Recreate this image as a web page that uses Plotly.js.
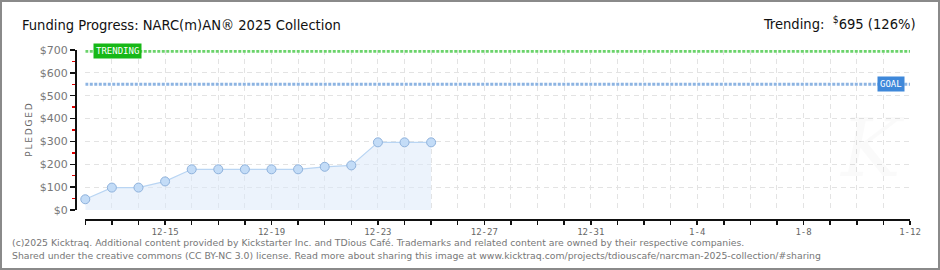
<!DOCTYPE html>
<html>
<head>
<meta charset="utf-8">
<script src="https://cdn.plot.ly/plotly-3.0.1.min.js"></script>
<style>
  html, body { margin: 0; padding: 0; background: #fff; }
  #wrap { position: relative; width: 940px; height: 270px; }
  #chart { width: 940px; height: 270px; }
  #frame { position: absolute; left: 0; top: 0; width: 936px; height: 266px; border: 2px solid #8a8a8a; pointer-events: none; }
</style>
</head>
<body>
<div id="wrap"><div id="chart"></div><div id="frame"></div></div>
<script>
// ---- data ----
const dates = ['2025-12-12','2025-12-13','2025-12-14','2025-12-15','2025-12-16','2025-12-17','2025-12-18',
               '2025-12-19','2025-12-20','2025-12-21','2025-12-22','2025-12-23','2025-12-24','2025-12-25'];
const pledged = [47, 98, 98, 125, 178, 178, 178, 178, 178, 189, 195, 296, 296, 296];
const tickDates = ['2025-12-15','2025-12-19','2025-12-23','2025-12-27','2025-12-31','2026-01-04','2026-01-08','2026-01-12'];
const tickLabels = ['12-15','12-19','12-23','12-27','12-31','1-4','1-8','1-12'];
const xStart = '2025-12-12';
const xEnd = '2026-01-12';
const goal = 550;
const trending = 695;
const trendingPct = 126;
const yTicks = [0, 100, 200, 300, 400, 500, 600, 700];
const yTickLabels = ['$0','$100','$200','$300','$400','$500','$600','$700'];

const titleText = 'Funding Progress: NARC(m)AN® 2025 Collection';
const footer1 = '(c)2025 Kicktraq. Additional content provided by Kickstarter Inc. and TDious Café. Trademarks and related content are owned by their respective companies.';
const footer2 = 'Shared under the creative commons (CC BY-NC 3.0) license. Read more about sharing this image at www.kicktraq.com/projects/tdiouscafe/narcman-2025-collection/#sharing';

const DAY = 86400000;
const thinFont = '"DejaVu Sans Condensed", "DejaVu Sans", sans-serif';

const trace = {
  x: dates, y: pledged, type: 'scatter', mode: 'lines+markers',
  fill: 'tozeroy', fillcolor: 'rgba(220,234,250,0.55)',
  line: { color: '#b9d5f3', width: 1.2 },
  marker: { size: 9, color: '#c3dcf7', line: { color: '#8fb2dc', width: 1 } },
  hoverinfo: 'skip', cliponaxis: false
};

const layout = {
  width: 940, height: 270,
  margin: { l: 75, r: 30, t: 50, b: 51 },
  paper_bgcolor: '#fff', plot_bgcolor: '#fff',
  showlegend: false,
  font: { family: '"DejaVu Sans", sans-serif', color: '#666' },
  xaxis: {
    type: 'date', range: [xStart, xEnd], domain: [0.0123, 1],
    anchor: 'free', position: 0,
    tickmode: 'array', tickvals: tickDates, ticktext: tickLabels,
    ticks: 'outside', ticklen: 4, tickwidth: 1.5, tickcolor: '#111',
    showline: true, linecolor: '#111', linewidth: 1.5,
    tickfont: { size: 9, color: '#666', family: '"DejaVu Sans Mono", monospace' },
    showgrid: true, gridcolor: '#e3e3e3', griddash: '5px,4px', gridwidth: 1,
    minor: { dtick: DAY, tick0: xStart, ticks: 'outside', ticklen: 4, tickwidth: 1.5, tickcolor: '#111',
             showgrid: true, gridcolor: '#e3e3e3', griddash: '5px,4px', gridwidth: 1 },
    zeroline: false, fixedrange: true
  },
  yaxis: {
    range: [0, 700], domain: [0.0533, 1],
    anchor: 'free', position: 0,
    tickmode: 'array', tickvals: yTicks, ticktext: yTickLabels,
    ticks: 'outside', ticklen: 5, tickwidth: 1.5, tickcolor: '#111',
    showline: true, linecolor: '#111', linewidth: 1.5,
    tickfont: { size: 11, color: '#777', family: '"DejaVu Sans", sans-serif' },
    showgrid: true, gridcolor: '#e3e3e3', griddash: '5px,4px', gridwidth: 1,
    minor: { dtick: 50, tick0: 50, ticks: 'outside', ticklen: 3, tickwidth: 1.5, tickcolor: '#e00000', showgrid: false },
    zeroline: false, fixedrange: true,
    title: { text: 'P\u2009L\u2009E\u2009D\u2009G\u2009E\u2009D', standoff: 4, font: { size: 9, color: '#666', family: '"DejaVu Sans", sans-serif' } }
  },
  shapes: [
    { type: 'line', xref: 'x', yref: 'y', x0: xStart, x1: xEnd, y0: trending, y1: trending,
      line: { color: '#6bd36b', width: 3, dash: '3px,1.5px' }, layer: 'above' },
    { type: 'line', xref: 'x', yref: 'y', x0: xStart, x1: xEnd, y0: goal, y1: goal,
      line: { color: '#8db4e2', width: 3, dash: '3px,1.5px' }, layer: 'above' }
  ],
  annotations: [
    { text: titleText, xref: 'paper', yref: 'paper', x: -0.066, y: 1.15, xanchor: 'left', yanchor: 'middle',
      showarrow: false, font: { size: 14.6, color: '#111', family: thinFont } },
    { text: 'Trending:  <sup>$</sup>' + trending + ' (' + trendingPct + '%)', xref: 'paper', yref: 'paper',
      x: 1.01, y: 1.16, xanchor: 'right', yanchor: 'middle',
      showarrow: false, font: { size: 14.6, color: '#111', family: thinFont } },
    { text: 'TRENDING', xref: 'paper', yref: 'y', x: 0.0216, y: trending, xanchor: 'left', yanchor: 'middle',
      showarrow: false, bgcolor: '#17b817', borderpad: 2, font: { size: 9, color: '#fff', family: '"DejaVu Sans Mono", monospace' } },
    { text: 'GOAL', xref: 'paper', yref: 'y', x: 0.994, y: goal, xanchor: 'right', yanchor: 'middle',
      showarrow: false, bgcolor: '#3e88da', borderpad: 2, font: { size: 9, color: '#fff', family: '"DejaVu Sans Mono", monospace' } },
    { text: '<i>K</i>', xref: 'paper', yref: 'paper', x: 0.955, y: 0.42, xanchor: 'center', yanchor: 'middle',
      showarrow: false, font: { size: 80, color: 'rgba(0,0,0,0.02)', family: '"DejaVu Serif", serif' } },
    { text: footer1, xref: 'paper', yref: 'paper', x: -0.0778, y: -0.142, xanchor: 'left', yanchor: 'middle',
      showarrow: false, font: { size: 9.3, color: '#777', family: '"DejaVu Sans", sans-serif' } },
    { text: footer2, xref: 'paper', yref: 'paper', x: -0.0778, y: -0.218, xanchor: 'left', yanchor: 'middle',
      showarrow: false, font: { size: 9.3, color: '#777', family: '"DejaVu Sans", sans-serif' } }
  ]
};

Plotly.newPlot('chart', [trace], layout, { displayModeBar: false, staticPlot: true });
</script>
</body>
</html>
